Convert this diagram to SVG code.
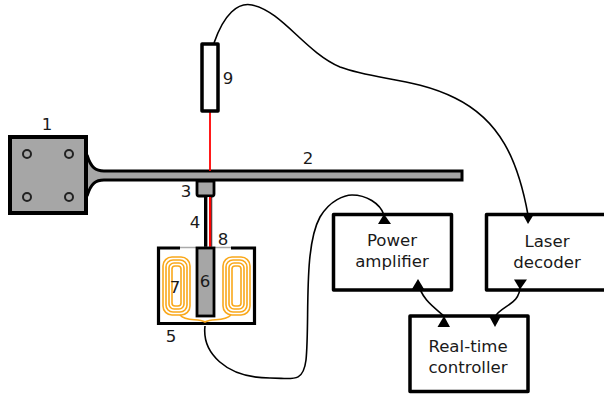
<svg xmlns="http://www.w3.org/2000/svg" width="604" height="398" viewBox="0 0 604 398">
<style>
text{font-family:"DejaVu Sans",sans-serif;font-size:16.600px;fill:#1a1a1a;text-anchor:middle}
.box{fill:#fff;stroke:#000;stroke-width:3.5;stroke-linejoin:round}
.wire{fill:none;stroke:#000;stroke-width:1.6}
.coil{fill:none;stroke:#f9a81b;stroke-width:1.6}
.hole{fill:none;stroke:#222;stroke-width:2}
.ah{fill:#000}
</style>
<rect width="604" height="398" fill="#fff"/>
<g id="beam">
<path d="M87 155C91 168 96 171 104 171H462V180H104C96 180 91 183 87 196Z" fill="#a6a6a6"/>
<path d="M87 155C91 168 96 171 104 171H462V180H104C96 180 91 183 87 196" fill="none" stroke="#000" stroke-width="3"/>
<text x="308" y="164">2</text>
</g>
<g id="base">
<rect x="10" y="137" width="76" height="76" fill="#a6a6a6" stroke="#000" stroke-width="4"/>
<circle class="hole" cx="27" cy="154" r="4"/><circle class="hole" cx="69" cy="154" r="4"/>
<circle class="hole" cx="27" cy="197" r="4"/><circle class="hole" cx="69" cy="197" r="4"/>
<text x="47" y="130">1</text>
</g>
<g id="laser">
<line x1="210" y1="112" x2="210" y2="171" stroke="#f00" stroke-width="1.8"/>
<rect x="202" y="44" width="16" height="67" class="box"/>
<text x="228" y="84">9</text>
</g>
<g id="tip">
<path d="M197 181H214V194Q214 196 212 196H199Q197 196 197 194Z" fill="#a6a6a6" stroke="#000" stroke-width="2.8"/>
<text x="186" y="197">3</text>
</g>
<g id="rod">
<rect x="204" y="197" width="3.600" height="52"/>
<rect x="207.600" y="197" width="1.400" height="52" fill="#fff"/>
<rect x="209" y="197" width="2.400" height="52" fill="#f00"/>
<rect x="211.400" y="197" width="0.800" height="52"/>
<text x="195" y="228">4</text>
</g>
<g id="magnet">
<path d="M180 248H158.500V323.500H254.500V248H231" fill="#fff" stroke="#000" stroke-width="3.2"/>
<line x1="180" y1="247.500" x2="231" y2="247.500" stroke="#aaa" stroke-width="1.500"/>
<g>
<rect x="163" y="257" width="27" height="58" rx="9" class="coil"/>
<rect x="166" y="260" width="21" height="52" rx="7" class="coil"/>
<rect x="169" y="263" width="15" height="46" rx="5" class="coil"/>
<rect x="172" y="266" width="9" height="40" rx="3" class="coil"/>
<rect x="223" y="257" width="27" height="58" rx="9" class="coil"/>
<rect x="226" y="260" width="21" height="52" rx="7" class="coil"/>
<rect x="229" y="263" width="15" height="46" rx="5" class="coil"/>
<rect x="232" y="266" width="9" height="40" rx="3" class="coil"/>
<path d="M180 315C186 322 198 318 205 322C212 318 224 322 231 315" class="coil"/>
</g>
<rect x="197" y="248" width="17" height="68" fill="#a6a6a6" stroke="#000" stroke-width="2.800"/>
<text x="175" y="293">7</text>
<text x="205" y="287">6</text>
<text x="223" y="245">8</text>
<text x="171" y="342">5</text>
</g>
<g id="amplifier">
<rect x="333.500" y="214.500" width="118" height="75.500" class="box"/>
<text x="392" y="246">Power</text>
<text x="392" y="267">amplifier</text>
</g>
<g id="decoder">
<rect x="486.500" y="214.500" width="130" height="75.500" class="box"/>
<text x="547" y="247">Laser</text>
<text x="547" y="268">decoder</text>
</g>
<g id="controller">
<rect x="410" y="316" width="118" height="75.500" class="box"/>
<text x="468" y="352">Real-time</text>
<text x="468" y="373">controller</text>
</g>
<g id="connectors">
<path class="wire" d="M214 43C224 14 238 2 252 5C282 11 305 52 340 67C375 80 415 78 455 98C500 120 518 160 528 215"/>
<path class="wire" d="M205 326C202 352 225 378 270 378C292 378 303 384 306 360C310 320 303 248 320 217C330 200 345 195 352 195C366 195 380 203 384 215"/>
<path class="wire" d="M418 282C421 298 432 306 444 316"/>
<path class="wire" d="M520 285C521 305 500 306 495 317"/>
<path class="ah" d="M384 214L378 224H391Z"/>
<path class="ah" d="M528 224L522.500 214H534Z"/>
<path class="ah" d="M418 279L412 289H424Z"/>
<path class="ah" d="M520 289.500L514 279.500H527Z"/>
<path class="ah" d="M444 316L437.500 327H450Z"/>
<path class="ah" d="M495 327L489 316H501Z"/>
</g>
</svg>
